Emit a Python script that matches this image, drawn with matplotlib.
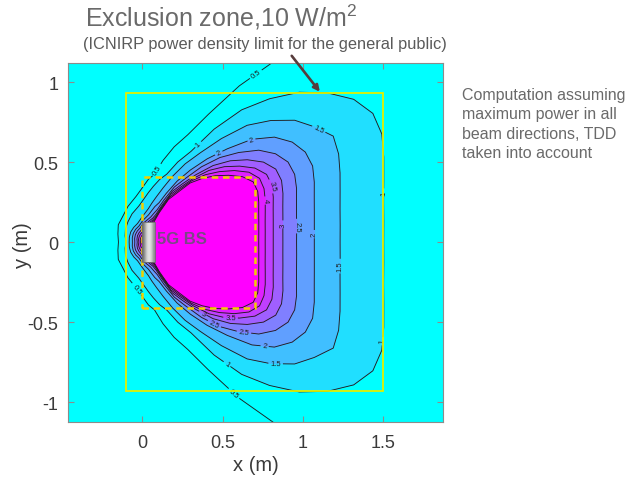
import numpy as np
import matplotlib
matplotlib.use("Agg")
import matplotlib.pyplot as plt
from matplotlib.patches import Rectangle

plt.rcParams["font.family"] = ["Liberation Sans", "DejaVu Sans"]
plt.rcParams["axes.unicode_minus"] = False
plt.rcParams["mathtext.fontset"] = "custom"
plt.rcParams["mathtext.rm"] = "Liberation Sans"
plt.rcParams["mathtext.it"] = "Liberation Sans"

# ---------------------------------------------------------------------------
# Field data: log10 of power density (W/m^2) around the base station.
# For each contour level, the distance (m) from the antenna centre at which
# that level is reached, per direction (deg above boresight).
# The pattern is symmetric about y = 0.
# ---------------------------------------------------------------------------
antenna_centre = (0.04, 0.0)
directions_deg = [0, 5, 10, 15, 20, 25, 30, 35, 40, 45, 50, 55, 60, 65, 70, 75, 80, 85, 90,
                  105, 120, 135, 150, 165, 180]

reach_0_5 = [2.30, 2.31, 2.32, 2.36, 2.42, 2.45, 2.45, 2.38, 2.25, 2.02, 1.75, 1.395, 1.123,
             0.877, 0.709, 0.611, 0.512, 0.419, 0.387, 0.29, 0.25, 0.22, 0.21, 0.19, 0.18]
reach_1_0 = [1.46, 1.466, 1.482, 1.512, 1.554, 1.598, 1.608, 1.555, 1.450, 1.324, 1.169, 1.009,
             0.815, 0.626, 0.533, 0.44, 0.397, 0.35, 0.31, 0.233, 0.204, 0.18, 0.165, 0.15, 0.14]
reach_1_5 = [1.19, 1.195, 1.208, 1.232, 1.266, 1.303, 1.325, 1.257, 1.185, 1.075, 0.953, 0.79,
             0.645, 0.54, 0.438, 0.351, 0.289, 0.245, 0.21, 0.16, 0.135, 0.13, 0.127, 0.123, 0.12]
reach_2_0 = [1.03, 1.034, 1.046, 1.066, 1.096, 1.125, 1.125, 1.090, 1.021, 0.909, 0.761, 0.635,
             0.52, 0.42, 0.325, 0.255, 0.225, 0.193, 0.17, 0.139, 0.117, 0.113, 0.109, 0.104, 0.10]
reach_2_5 = [0.92, 0.924, 0.934, 0.952, 0.979, 1.002, 1.001, 0.963, 0.894, 0.792, 0.69, 0.575,
             0.46, 0.38, 0.28, 0.21, 0.18, 0.157, 0.145, 0.123, 0.103, 0.098, 0.094, 0.089, 0.085]
reach_3_0 = [0.835, 0.838, 0.848, 0.864, 0.889, 0.912, 0.913, 0.872, 0.801, 0.719, 0.625, 0.515,
             0.42, 0.35, 0.245, 0.18, 0.152, 0.139, 0.128, 0.107, 0.088, 0.083, 0.079, 0.074, 0.07]
reach_3_5 = [0.775, 0.778, 0.787, 0.802, 0.825, 0.846, 0.847, 0.807, 0.739, 0.667, 0.585, 0.487,
             0.395, 0.33, 0.225, 0.16, 0.138, 0.126, 0.115, 0.092, 0.074, 0.071, 0.067, 0.064, 0.06]
reach_4_0 = [0.725, 0.728, 0.736, 0.751, 0.772, 0.792, 0.797, 0.762, 0.696, 0.623, 0.55, 0.468,
             0.375, 0.31, 0.21, 0.145, 0.125, 0.112, 0.10, 0.071, 0.061, 0.058, 0.055, 0.053, 0.05]
reach_4_5 = [0.685, 0.688, 0.696, 0.709, 0.729, 0.749, 0.752, 0.713, 0.650, 0.587, 0.52, 0.451,
             0.355, 0.294, 0.196, 0.13, 0.115, 0.10, 0.085, 0.05, 0.048, 0.045, 0.043, 0.042, 0.04]

contour_levels = [0.5, 1.0, 1.5, 2.0, 2.5, 3.0, 3.5, 4.0, 4.5]
far_level, far_reach = 0.0, 3.5          # background beyond the outermost contour
peak_level = 5.0                          # value at the antenna itself

x_ticks = [0, 0.5, 1, 1.5]
y_ticks = [-1, -0.5, 0, 0.5, 1]

# Where the level labels sit along the lines
label_spots = [(0.70, 1.06), (0.11, 0.44), (-0.03, -0.29), (0.55, -0.97),
               (0.34, 0.62), (1.50, 0.31), (1.50, -0.62), (0.53, -0.76),
               (1.10, 0.71), (1.23, -0.15), (0.83, -0.76),
               (0.68, 0.64), (1.07, 0.05), (0.76, -0.67),
               (0.48, 0.55), (0.96, 0.10), (0.63, -0.59),
               (0.876, 0.11), (0.45, -0.51),
               (0.81, 0.35), (0.55, -0.47),
               (0.76, 0.26), (0.38, -0.44)]

# ---------------------------------------------------------------------------
# Curvilinear grid: one ring per level, one column per direction (closed loop)
# ---------------------------------------------------------------------------
dirs = list(directions_deg) + [360 - d for d in reversed(directions_deg[1:-1])] + [360]
theta = np.radians(dirs)


def full_ring(reach):
    half = list(reach)
    return np.asarray(half + list(reversed(half[1:-1])) + [half[0]])


ring_levels = [far_level] + contour_levels + [peak_level]
ring_reach = ([np.full(len(dirs), far_reach)] +
              [full_ring(r) for r in (reach_0_5, reach_1_0, reach_1_5, reach_2_0, reach_2_5,
                                      reach_3_0, reach_3_5, reach_4_0, reach_4_5)] +
              [np.zeros(len(dirs))])
R = np.vstack(ring_reach)
X = antenna_centre[0] + R * np.cos(theta)[None, :]
Y = antenna_centre[1] + R * np.sin(theta)[None, :]
Z = np.repeat(np.asarray(ring_levels, dtype=float)[:, None], len(dirs), axis=1)

eps = 1e-3
line_lv = [lv - eps for lv in contour_levels]
fill_edges = [-10.0] + line_lv + [20.0]
cool = plt.get_cmap("cool")
fill_colors = [cool(0.0)] + [cool(np.clip((lv - 0.5) / 4.0, 0, 1)) for lv in contour_levels]

# ---------------------------------------------------------------------------
# Figure
# ---------------------------------------------------------------------------
fig = plt.figure(figsize=(6.32, 4.81), dpi=100)
ax = fig.add_axes([68 / 632, 1 - 423 / 481, 375 / 632, 359 / 481])

xlim = (-0.46, 1.87)
ylim = (-1.125, 1.12)
ax.set_xlim(*xlim)
ax.set_ylim(*ylim)

ax.contourf(X, Y, Z, levels=fill_edges, colors=fill_colors, zorder=1)
cs = ax.contour(X, Y, Z, levels=line_lv, colors="#1e1e1e", linewidths=0.65, zorder=2)
ax.clabel(cs, fmt={lv - eps: f"{lv:g}" for lv in contour_levels}, fontsize=5.5,
          inline=True, inline_spacing=2, manual=label_spots)

# Reference boxes
ax.add_patch(Rectangle((-0.10, -0.93), 1.60, 1.865, fill=False, ec="#e2f000",
                       lw=1.3, zorder=4))
ax.add_patch(Rectangle((0.0, -0.41), 0.70, 0.82, fill=False, ec="#f2d000",
                       lw=1.8, ls=(0, (2.6, 1.9)), zorder=4))

# Base station cabinet
shade = np.array([[0.42, 0.6, 0.8, 0.9, 0.88, 0.75, 0.55]])
ax.imshow(shade, extent=(0.0, 0.08, -0.125, 0.125), cmap="gray", vmin=0, vmax=1,
          aspect="auto", interpolation="bicubic", zorder=5)
ax.add_patch(Rectangle((0.0, -0.125), 0.08, 0.25, fill=False, ec="#6e6e6e", lw=0.6, zorder=5))
ax.text(0.095, 0.02, "5G BS", fontsize=12, fontweight="bold", color="#7a4886",
        ha="left", va="center", zorder=6)

# Arrow to the 10 W/m^2 boundary
ax.annotate("", xy=(1.105, 0.94), xytext=(0.93, 1.165),
            arrowprops=dict(arrowstyle="-|>", color="#573c3c", lw=1.9,
                            mutation_scale=9, shrinkA=0, shrinkB=0),
            annotation_clip=False, zorder=7)

ax.set_xlim(*xlim)
ax.set_ylim(*ylim)
ax.set_xticks(x_ticks)
ax.set_xticklabels([f"{t:g}" for t in x_ticks])
ax.set_yticks(y_ticks)
ax.set_yticklabels([f"{t:g}" for t in y_ticks])
ax.tick_params(direction="in", top=True, right=True, length=4, width=0.8,
               color="#8c8c8c", labelsize=13, labelcolor="#3a3a3a")
ax.tick_params(axis="x", pad=9)
ax.tick_params(axis="y", pad=7)
for sp in ax.spines.values():
    sp.set_color("#8c8c8c")
    sp.set_linewidth(0.8)

ax.set_xlabel("x (m)", fontsize=14.5, color="#3a3a3a")
ax.set_ylabel("y (m)", fontsize=14.5, color="#3a3a3a")
ax.xaxis.set_label_coords(0.5, -0.092)
ax.yaxis.label.set_va("center")
ax.yaxis.set_label_coords(-0.122, 0.496)

# Headings
fig.text(85 / 632, 1 - 27 / 481, r"Exclusion zone,10 W/m$^{\rm 2}$", fontsize=18,
         color="#6a6a6a", ha="left", va="baseline")
fig.text(83 / 632, 1 - 49 / 481, "(ICNIRP power density limit for the general public)",
         fontsize=11.8, color="#5a5a5a", ha="left", va="baseline")

note_lines = ["Computation assuming", "maximum power in all",
              "beam directions, TDD", "taken into account"]
for k, line in enumerate(note_lines):
    fig.text(462 / 632, 1 - (100 + 19.5 * k) / 481, line, fontsize=11.5,
             color="#6a6a6a", ha="left", va="baseline")

fig.savefig("out.png", dpi=100)
